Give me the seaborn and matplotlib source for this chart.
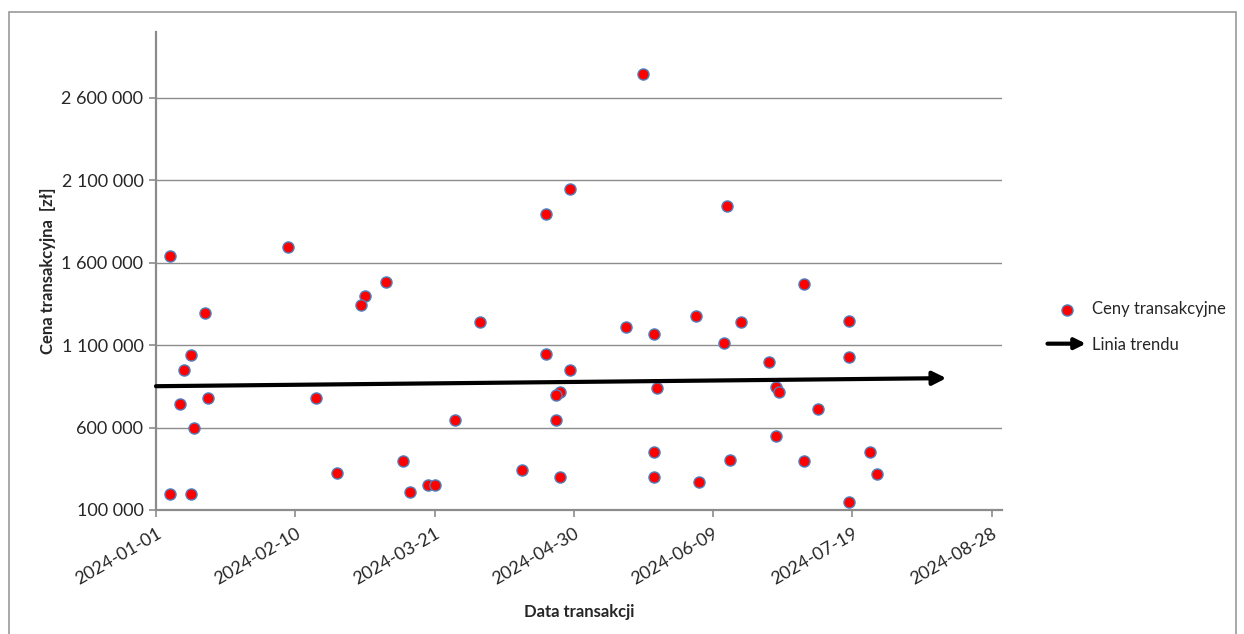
#! /usr/bin/env python
"""
Ceny transakcyjne w czasie (2024) z linia trendu
"""

import matplotlib
matplotlib.use("Agg")
import matplotlib.pyplot as plt
import matplotlib.dates as mdates
from matplotlib.patches import FancyArrowPatch, Rectangle
from matplotlib.legend_handler import HandlerPatch
from matplotlib.ticker import FuncFormatter
import pandas as pd
import seaborn as sns

# data
transaction_dates = [
    "2024-01-05", "2024-02-08", "2024-03-01", "2024-02-29", "2024-01-15",
    "2024-01-11", "2024-01-09", "2024-01-08", "2024-01-16", "2024-02-16",
    "2024-01-12", "2024-02-22", "2024-01-05", "2024-01-11", "2024-03-07",
    "2024-04-03", "2024-04-22", "2024-04-29", "2024-04-26", "2024-04-25",
    "2024-03-27", "2024-04-25", "2024-03-12", "2024-04-15", "2024-04-26",
    "2024-03-19", "2024-03-21", "2024-03-14", "2024-05-15", "2024-05-23",
    "2024-06-04", "2024-06-17", "2024-06-12", "2024-06-25", "2024-05-24",
    "2024-06-27", "2024-06-28", "2024-06-27", "2024-05-23", "2024-06-14",
    "2024-05-23", "2024-06-05", "2024-07-05", "2024-07-18", "2024-07-18",
    "2024-07-09", "2024-07-05", "2024-07-24", "2024-07-26", "2024-07-18",
    "2024-05-20", "2024-04-29", "2024-04-22", "2024-06-13",
]
transaction_prices = [
    1640000, 1696000, 1399000, 1345000, 1298000,
    1042000, 947000, 742000, 777000, 777000,
    595000, 327000, 197000, 197000, 1486000,
    1238000, 1048000, 948000, 817000, 797000,
    648000, 648000, 399000, 342000, 300000,
    250000, 252000, 207000, 1211000, 1165000,
    1276000, 1242000, 1116000, 997000, 838000,
    845000, 817000, 548000, 450000, 403000,
    298000, 272000, 1472000, 1245000, 1027000,
    712000, 399000, 450000, 316000, 148000,
    2745000, 2048000, 1896000, 1947000,
]

trend_dates = ["2024-01-01", "2024-08-15"]
trend_values = [851000, 900000]

x_ticks = ["2024-01-01", "2024-02-10", "2024-03-21", "2024-04-30",
           "2024-06-09", "2024-07-19", "2024-08-28"]
x_limits = ["2024-01-01", "2024-08-31"]
y_ticks = [100000, 600000, 1100000, 1600000, 2100000, 2600000]
y_limits = [100000, 3000000]

GRID_COLOR = "#8c8c8c"
FONT_SIZE = 13


class ArrowHandler(HandlerPatch):
    def create_artists(self, legend, orig_handle, xdescent, ydescent,
                       width, height, fontsize, trans):
        arrow = FancyArrowPatch((-xdescent, height / 2), (width - xdescent, height / 2),
                                arrowstyle="-|>", mutation_scale=16, lw=3.0,
                                color="black", shrinkA=0, shrinkB=0)
        arrow.set_transform(trans)
        return [arrow]


def run() -> None:
    df = pd.DataFrame({
        "Data": pd.to_datetime(transaction_dates),
        "Cena": transaction_prices,
    })

    sns.set_style("white")
    plt.rcParams["font.family"] = ["Lato", "DejaVu Sans"]

    fig = plt.figure(figsize=(12.44, 6.34), dpi=100)
    ax = fig.add_axes([0.1254, 0.1956, 0.6801, 0.7539])

    # chart border
    fig.patches.append(Rectangle((9 / 1244, -0.01), 1227 / 1244, 1 - 12 / 634 + 0.01,
                                 transform=fig.transFigure, fill=False,
                                 edgecolor="#9a9a9a", lw=1.2))

    sns.scatterplot(data=df, x="Data", y="Cena", ax=ax, color="#ff0000",
                    edgecolor="#4f81bd", linewidth=1.0, s=64, zorder=3,
                    label="Ceny transakcyjne")

    t = mdates.date2num(pd.to_datetime(trend_dates))
    ax.annotate("", xy=(t[1], trend_values[1]), xytext=(t[0], trend_values[0]),
                arrowprops=dict(arrowstyle="-|>", lw=3.0, color="black",
                                mutation_scale=20, shrinkA=0, shrinkB=0),
                zorder=4)

    ax.set_xlim(pd.to_datetime(x_limits))
    ax.set_ylim(y_limits)
    ax.set_xticks(pd.to_datetime(x_ticks))
    ax.set_xticklabels(x_ticks, rotation=30, ha="right", rotation_mode="anchor",
                       fontsize=FONT_SIZE)
    ax.set_yticks(y_ticks)
    ax.yaxis.set_major_formatter(FuncFormatter(lambda v, p: f"{v:,.0f}".replace(",", " ")))
    ax.tick_params(axis="y", labelsize=FONT_SIZE, length=5, width=1.2, color=GRID_COLOR,
                   direction="out", left=True, pad=4)
    ax.tick_params(axis="x", length=5, width=1.2, color=GRID_COLOR,
                   direction="out", bottom=True, pad=6)

    ax.grid(axis="y", color=GRID_COLOR, lw=1.0)
    ax.set_axisbelow(True)
    for side in ["top", "right"]:
        ax.spines[side].set_visible(False)
    for side in ["left", "bottom"]:
        ax.spines[side].set_color(GRID_COLOR)
        ax.spines[side].set_linewidth(1.6)

    ax.set_xlabel("Data transakcji", fontsize=12, fontweight="bold", labelpad=12)
    ax.set_ylabel("Cena transakcyjna  [zł]", fontsize=12, fontweight="bold", labelpad=4)

    scatter_handle = ax.collections[0]
    arrow_proxy = FancyArrowPatch((0, 0), (1, 0))
    ax.legend([scatter_handle, arrow_proxy], ["Ceny transakcyjne", "Linia trendu"],
              handler_map={FancyArrowPatch: ArrowHandler()},
              loc="center left", bbox_to_anchor=(1.036, 0.383), frameon=False,
              fontsize=12, handlelength=2.3, handletextpad=0.35,
              labelspacing=1.15, borderpad=0.4)

    fig.savefig("out.png", dpi=100)


if __name__ == "__main__":
    run()
